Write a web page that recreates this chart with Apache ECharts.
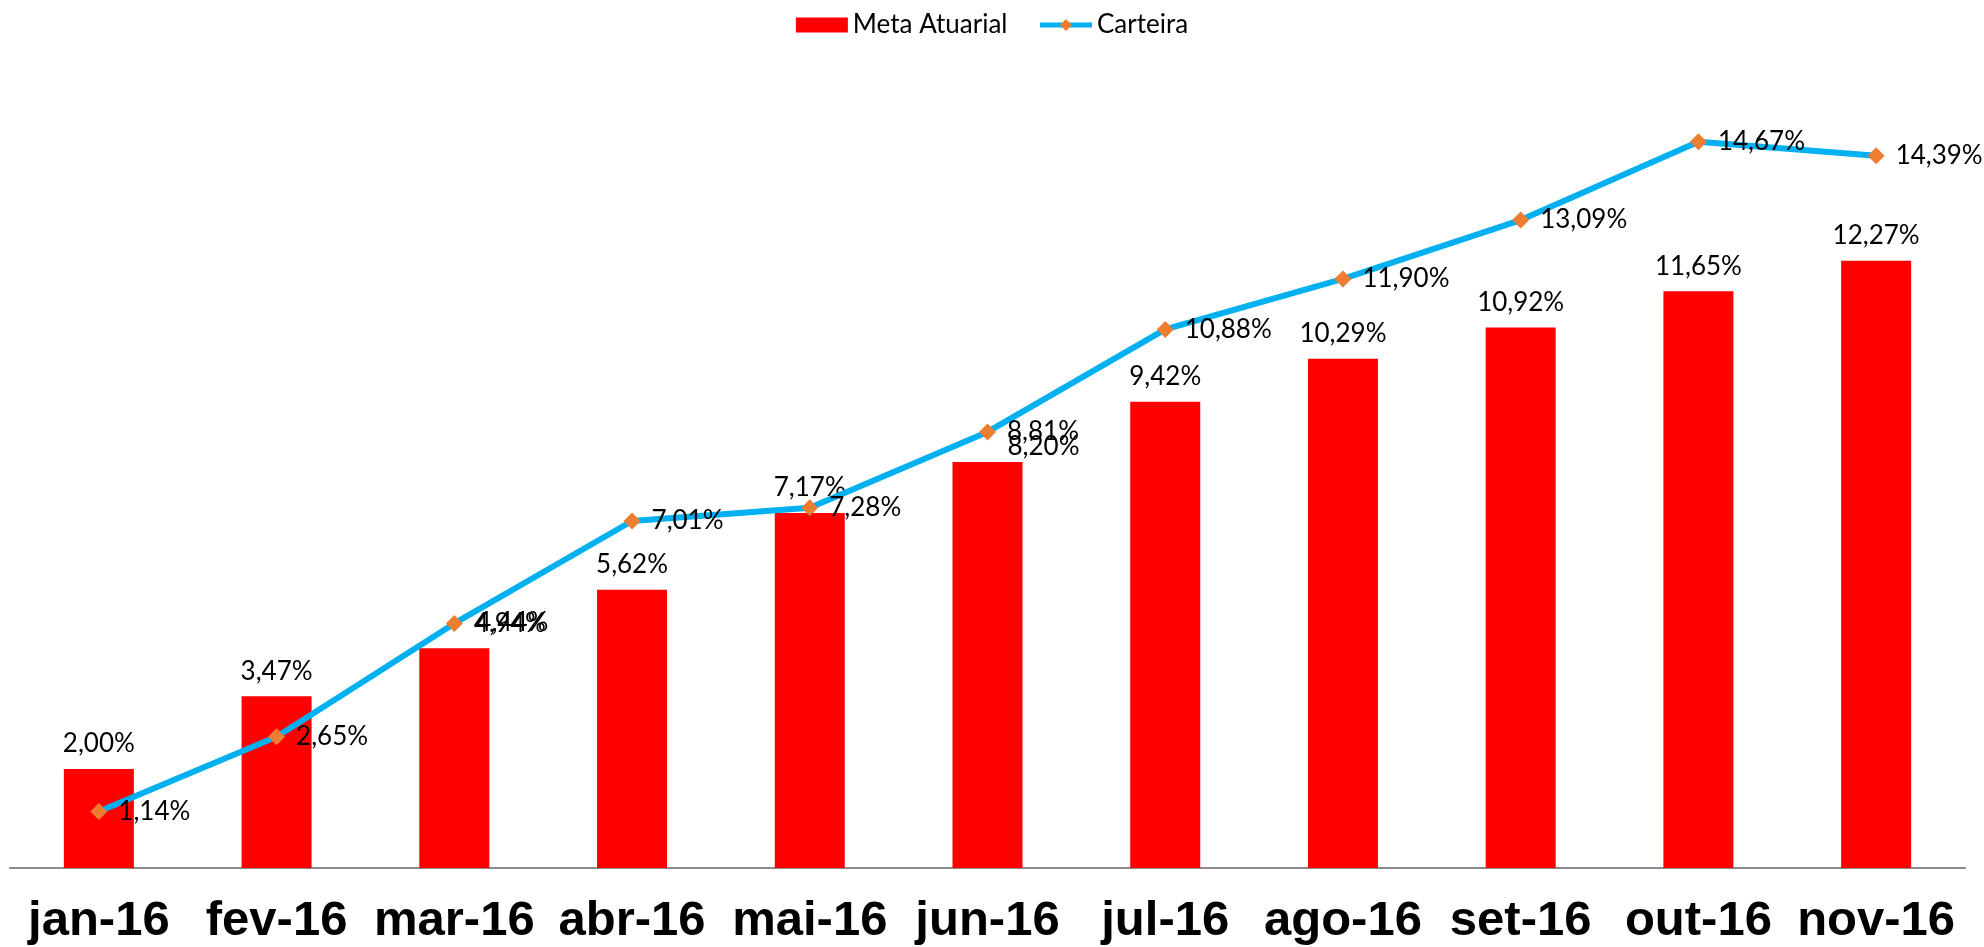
<!DOCTYPE html>
<html>
<head>
<meta charset="utf-8">
<title>Meta Atuarial x Carteira</title>
<script src="https://cdn.jsdelivr.net/npm/echarts@6/dist/echarts.min.js"></script>
<style>
    html, body { margin: 0; padding: 0; background: #fff; }
    #chart { width: 1984px; height: 947px; }
</style>
</head>
<body>
<div id="chart"></div>
<script>
    var categories = ['jan-16', 'fev-16', 'mar-16', 'abr-16', 'mai-16', 'jun-16', 'jul-16', 'ago-16', 'set-16', 'out-16', 'nov-16'];
    var metaAtuarial = [2.00, 3.47, 4.44, 5.62, 7.17, 8.20, 9.42, 10.29, 10.92, 11.65, 12.27];
    var carteira = [1.14, 2.65, 4.94, 7.01, 7.28, 8.81, 10.88, 11.90, 13.09, 14.67, 14.39];

    // rotulos movidos a mao no original (mar e jun)
    var barLabelOffset = { 2: [58, -1], 5: [56, 10] };

    function pct(v) {
        return v.toFixed(2).replace('.', ',') + '%';
    }

    var labelFont = 'Lato';

    var chart = echarts.init(document.getElementById('chart'));

    var barData = metaAtuarial.map(function (v, i) {
        var item = { value: v };
        if (barLabelOffset[i]) {
            item.label = { offset: barLabelOffset[i] };
        }
        return item;
    });

    var option = {
        animation: false,
        legend: {
            top: 7,
            left: 'center',
            itemGap: 30,
            itemWidth: 52,
            itemHeight: 15,
            textStyle: { fontFamily: labelFont, fontSize: 26, color: '#000' },
            data: [
                { name: 'Meta Atuarial', icon: 'rect' },
                { name: 'Carteira', lineStyle: { width: 5 } }
            ]
        },
        grid: {
            left: 10,
            right: 19,
            top: 76,
            bottom: 79
        },
        xAxis: {
            type: 'category',
            data: categories,
            axisTick: { show: false },
            axisLine: { lineStyle: { color: '#8c8c8c', width: 2 } },
            axisLabel: {
                interval: 0,
                margin: 29,
                fontFamily: 'Liberation Sans',
                fontWeight: 'bold',
                fontSize: 49,
                color: '#000'
            }
        },
        yAxis: {
            type: 'value',
            min: 0,
            max: 16,
            show: false,
            splitLine: { show: false }
        },
        series: [
            {
                name: 'Meta Atuarial',
                type: 'bar',
                barWidth: 70,
                itemStyle: { color: '#ff0000' },
                label: {
                    show: true,
                    position: 'top',
                    distance: 12,
                    fontFamily: labelFont,
                    fontSize: 26,
                    color: '#000',
                    formatter: function (p) { return pct(p.value); }
                },
                data: barData
            },
            {
                name: 'Carteira',
                type: 'line',
                symbol: 'diamond',
                symbolSize: 17,
                itemStyle: { color: '#ed7d31' },
                lineStyle: { color: '#00b0f0', width: 6 },
                label: {
                    show: true,
                    position: 'right',
                    distance: 11,
                    fontFamily: labelFont,
                    fontSize: 26,
                    color: '#000',
                    formatter: function (p) { return pct(p.value); }
                },
                z: 3,
                data: carteira
            }
        ]
    };

    chart.setOption(option);
</script>
</body>
</html>
